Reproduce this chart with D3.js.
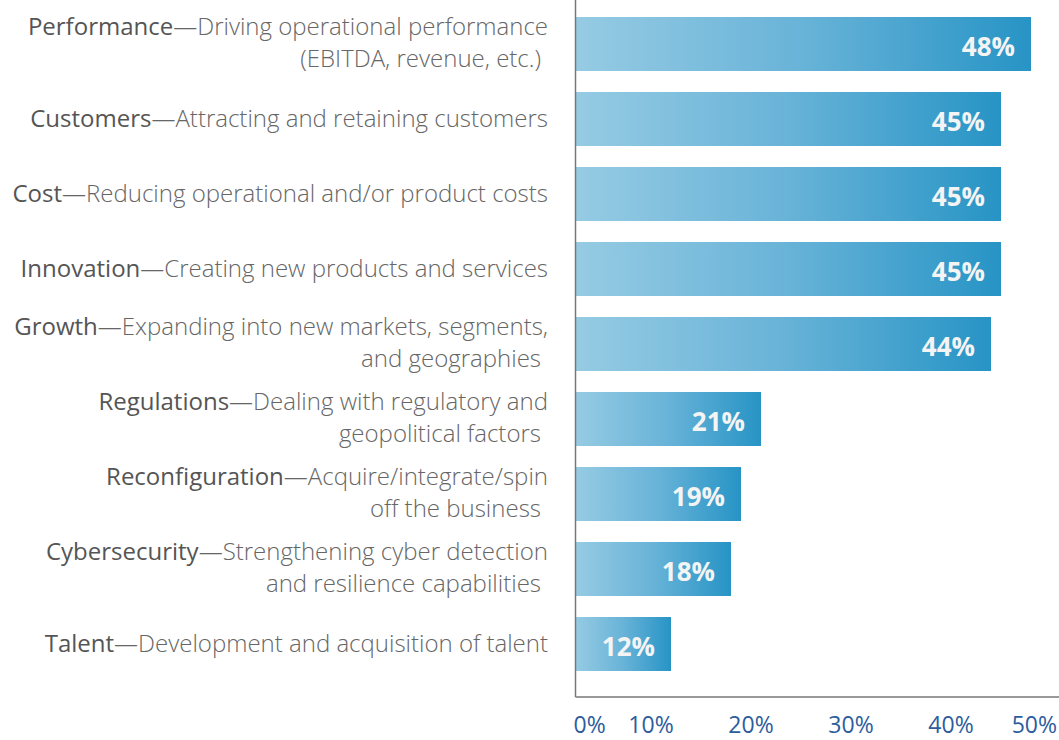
<!DOCTYPE html>
<html>
<head>
<meta charset="utf-8">
<script src="https://cdn.jsdelivr.net/npm/d3@7"></script>
<style>
  html, body { margin: 0; padding: 0; background: #fff; }
  svg { display: block; }
  text { font-family: "Open Sans", "Noto Sans", sans-serif; }
</style>
</head>
<body>
<svg id="chart" width="1059" height="740"></svg>
<script>
const names = ["Performance","Customers","Cost","Innovation","Growth","Regulations","Reconfiguration","Cybersecurity","Talent"];
const descFirst = [
  "—Driving operational performance",
  "—Attracting and retaining customers",
  "—Reducing operational and/or product costs",
  "—Creating new products and services",
  "—Expanding into new markets, segments,",
  "—Dealing with regulatory and",
  "—Acquire/integrate/spin",
  "—Strengthening cyber detection",
  "—Development and acquisition of talent"
];
const descSecond = [
  "(EBITDA, revenue, etc.)",
  "",
  "",
  "",
  "and geographies",
  "geopolitical factors",
  "off the business",
  "and resilience capabilities",
  ""
];
const values = [48,45,45,45,44,21,19,18,12];
const tickValues = [0,10,20,30,40,50];
const tickLabels = ["0%","10%","20%","30%","40%","50%"];

const W = 1059, H = 740;
const axisX = 575.5, axisBottom = 697, labelRight = 548;
const svg = d3.select("#chart");

const x = d3.scaleLinear().domain([0,50]).range([551,1051]);
const y = d3.scaleBand().domain(names).range([6.5,681.5]).paddingInner(0.28).paddingOuter(0.14);

const defs = svg.append("defs");
const grad = defs.append("linearGradient").attr("id","barGrad").attr("x1","0%").attr("x2","100%").attr("y1","0%").attr("y2","0%");
grad.append("stop").attr("offset","0%").attr("stop-color","#96cbe3");
grad.append("stop").attr("offset","50%").attr("stop-color","#68b3d8");
grad.append("stop").attr("offset","100%").attr("stop-color","#2794c5");

const data = names.map((n,i)=>({name:n, d1:descFirst[i], d2:descSecond[i], v:values[i]}));

// bars
svg.append("g").selectAll("rect").data(data).join("rect")
  .attr("x", axisX)
  .attr("y", d=>y(d.name))
  .attr("width", d=>x(d.v)-axisX)
  .attr("height", y.bandwidth())
  .attr("fill","url(#barGrad)");

// value labels
svg.append("g").selectAll("text").data(data).join("text")
  .attr("x", d=>x(d.v)-16)
  .attr("y", d=>y(d.name)+y.bandwidth()/2+2)
  .attr("text-anchor","end")
  .attr("dominant-baseline","central")
  .attr("fill","#f4f4f4")
  .attr("font-size",26)
  .attr("font-weight",700)
  .text(d=>d.v+"%");

// category labels
const lab = svg.append("g").selectAll("g").data(data).join("g");
lab.each(function(d){
  const g = d3.select(this);
  const cy = y(d.name)+y.bandwidth()/2;
  const two = d.d2 !== "";
  const t1 = g.append("text")
    .attr("x", labelRight)
    .attr("y", two ? cy-19 : cy-2)
    .attr("text-anchor","end")
    .attr("dominant-baseline","central")
    .attr("font-size",24);
  t1.append("tspan").attr("fill","#555").attr("font-weight",400).text(d.name);
  t1.append("tspan").attr("fill","#666").attr("font-weight",300).text(d.d1);
  if (two) {
    g.append("text")
      .attr("x", labelRight-7)
      .attr("y", cy+13)
      .attr("text-anchor","end")
      .attr("dominant-baseline","central")
      .attr("font-size",24)
      .attr("fill","#666")
      .attr("font-weight",300)
      .text(d.d2);
  }
});

// axis lines
svg.append("line").attr("x1",axisX).attr("x2",axisX).attr("y1",0).attr("y2",axisBottom)
  .attr("stroke","#777").attr("stroke-width",1.5);
svg.append("line").attr("x1",axisX).attr("x2",W).attr("y1",axisBottom).attr("y2",axisBottom)
  .attr("stroke","#777").attr("stroke-width",1.5);

// tick labels
svg.append("g").selectAll("text").data(tickValues).join("text")
  .attr("y", 733)
  .attr("font-size",23)
  .attr("font-weight",400)
  .attr("fill","#2c5d9d")
  .text((d,i)=>tickLabels[i])
  .attr("x", (d,i)=> i===0 ? axisX-2 : (i===tickValues.length-1 ? W-2 : x(d)))
  .attr("text-anchor", (d,i)=> i===0 ? "start" : (i===tickValues.length-1 ? "end" : "middle"));
</script>
</body>
</html>
